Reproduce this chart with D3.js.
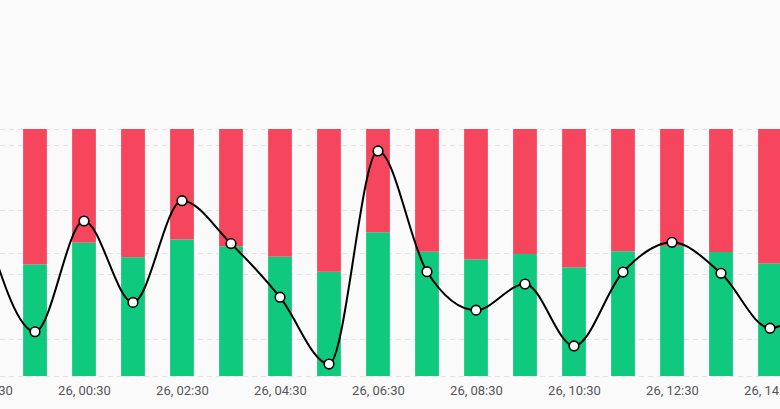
<!DOCTYPE html>
<html>
<head>
<meta charset="utf-8">
<script src="https://cdn.jsdelivr.net/npm/d3@7"></script>
<style>
  html, body { margin: 0; padding: 0; background: #fafafa; }
  svg { display: block; }
  .tick-label { font-family: Roboto, sans-serif; font-size: 13px; fill: #555; }
</style>
</head>
<body>
<div id="chart"></div>
<script>
// Data
const times = ['25, 22:30', '25, 23:30', '26, 00:30', '26, 01:30', '26, 02:30', '26, 03:30',
  '26, 04:30', '26, 05:30', '26, 06:30', '26, 07:30', '26, 08:30', '26, 09:30',
  '26, 10:30', '26, 11:30', '26, 12:30', '26, 13:30', '26, 14:30', '26, 15:30'];
const greenShare = [50, 45.2, 54.0, 48.1, 55.3, 52.5, 48.3, 42.2, 58.2, 50.3, 47.2, 49.4, 44.0, 50.5, 52.6, 50.2, 45.6, 50];
const redShare = greenShare.map(g => 100 - g);
const lineValues = [54.0, 22.2, 56.5, 31.3, 62.8, 49.5, 32.9, 12.2, 78.2, 40.8, 28.9, 37.0, 17.8, 40.7, 49.9, 40.3, 23.3, 35.1];
const tickLabels = ['25, 22:30', '26, 00:30', '26, 02:30', '26, 04:30', '26, 06:30', '26, 08:30',
  '26, 10:30', '26, 12:30', '26, 14:30'];
const shareGrid = [0, 50, 100];
const lineGrid = [20, 40, 60, 80];

// Dimensions
const width = 780;
const height = 409;
const plotTop = 129;
const plotBottom = 376;

const svg = d3.select('#chart')
  .append('svg')
    .attr('viewBox', `0 0 ${width} ${height}`)
    .attr('width', width)
    .attr('height', height);

svg.append('rect')
    .attr('width', width)
    .attr('height', height)
    .attr('fill', '#fafafa');

// Scales
const xScale = d3.scalePoint()
  .domain(times)
  .range([-14, 819]);
const barWidth = xScale.step() * 0.485;

const shareScale = d3.scaleLinear()
  .domain([0, 100])
  .range([plotBottom, plotTop]);

const lineScale = d3.scaleLinear()
  .domain([8.5, 85])
  .range([plotBottom, plotTop]);

// Grid lines (both axes share the plot)
const gridValues = shareGrid.map(v => shareScale(v)).concat(lineGrid.map(v => lineScale(v)));
svg.append('g')
    .attr('class', 'grid')
    .attr('stroke', '#e4e4e4')
    .attr('stroke-dasharray', '5 4')
  .selectAll('line')
  .data(gridValues)
  .join('line')
    .attr('x1', 0)
    .attr('x2', width)
    .attr('y1', d => Math.round(d) + 0.5)
    .attr('y2', d => Math.round(d) + 0.5);

// Stacked bars
const rows = times.map((t, i) => ({time: t, green: greenShare[i], red: redShare[i]}));
const stacked = d3.stack().keys(['green', 'red'])(rows);
const barColors = {green: '#0fc97f', red: '#f6465d'};

svg.append('g')
    .attr('class', 'bars')
  .selectAll('g')
  .data(stacked)
  .join('g')
    .attr('fill', d => barColors[d.key])
  .selectAll('rect')
  .data(d => d)
  .join('rect')
    .attr('x', d => xScale(d.data.time) - barWidth / 2)
    .attr('width', barWidth)
    .attr('y', d => shareScale(d[1]))
    .attr('height', d => shareScale(d[0]) - shareScale(d[1]));

// Line
const linePoints = times.map((t, i) => ({time: t, value: lineValues[i]}));
const line = d3.line()
  .x(d => xScale(d.time))
  .y(d => lineScale(d.value))
  .curve(d3.curveMonotoneX);

svg.append('path')
    .datum(linePoints)
    .attr('fill', 'none')
    .attr('stroke', '#000')
    .attr('stroke-width', 2)
    .attr('d', line);

svg.append('g')
    .attr('class', 'points')
    .attr('fill', '#fff')
    .attr('stroke', '#000')
    .attr('stroke-width', 1.6)
  .selectAll('circle')
  .data(linePoints)
  .join('circle')
    .attr('cx', d => xScale(d.time))
    .attr('cy', d => lineScale(d.value))
    .attr('r', 4.8);

// X axis
const xAxis = d3.axisBottom(xScale)
  .tickValues(tickLabels)
  .tickSize(0)
  .tickPadding(0);
svg.append('g')
    .attr('transform', `translate(0, 386)`)
    .call(xAxis)
    .call(g => g.select('.domain').remove())
    .call(g => g.selectAll('text')
      .attr('class', 'tick-label')
      .attr('fill', null)
      .attr('dy', '0.71em'));
</script>
</body>
</html>
